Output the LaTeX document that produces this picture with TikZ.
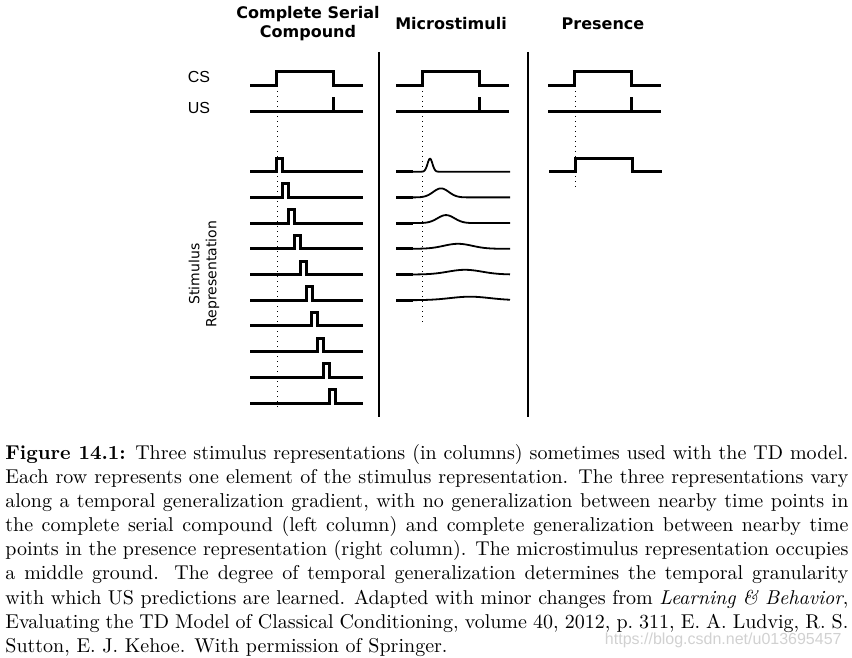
\documentclass[tikz,border=0pt]{standalone}
\usepackage{fontspec}
\newfontfamily\hdfont{DejaVu Sans}
\newfontfamily\lbfont{Liberation Sans}
\usetikzlibrary{calc}

\begin{document}
\begin{tikzpicture}[x=0.5pt,y=-0.5pt,
  sig/.style={line width=1.5pt},
  msig/.style={line width=0.9pt},
  onset/.style={dotted,line width=0.5pt},
  sep/.style={line width=1pt},
  head/.style={font=\hdfont\bfseries\fontsize{8}{9.3}\selectfont,align=center,inner sep=0pt}]
\useasboundingbox (0,0) rectangle (852,658);
% column headers
\node[head,anchor=north] (hcsc) at (308,6) {Complete Serial\\Compound};
\node[head,anchor=base] (hmicro) at (451,29.3) {Microstimuli};
\node[head,anchor=base] (hpres) at (603,29.3) {Presence};
\draw[sep] (379,52) -- (379,417); \draw[sep] (528,52) -- (528,417);
% CS and US rows
\node[font=\lbfont\fontsize{8}{9.6}\selectfont,anchor=base,inner sep=0pt] (cs) at (199,82.7) {CS};
\node[font=\lbfont\fontsize{8}{9.6}\selectfont,anchor=base,inner sep=0pt] (us) at (199,113.3) {US};
\foreach \ox in {250,396,548}{
  \draw[sig] (\ox,86) -- ++(26.5,0) -- ++(0,-14.5) -- ++(56.5,0) -- ++(0,14.5) -- ++(29.5,0);
  \draw[sig] (\ox,112) -- ++(112.5,0);
  \draw[sig] ({\ox+83},112) -- ++(0,-15);
}
% stimulus representations
\node[font=\hdfont\fontsize{7}{8.5}\selectfont,align=center,rotate=90,inner sep=0pt] (stimrep) at (204,274) {Stimulus\\Representation};
\foreach \i in {0,...,9}{
  \pgfmathsetmacro\yy{171.7+25.7*\i}
  \pgfmathsetmacro\xx{276.5+5.9*\i}
  \draw[sig] (250,\yy) -- (\xx,\yy) -- ++(0,-13.5) -- ++(6,0) -- ++(0,13.5) -- (363,\yy);
}
\foreach \i/\c/\s/\a in {0/430/3.5/13,1/441/11/9,2/446/12/8,3/458/20/5,4/465/24/4.7,5/470/28/3.5}{
  \pgfmathsetmacro\yy{171.7+25.7*\i}
  \draw[sig] (396,\yy) -- (413,\yy);
  \draw[msig] plot[domain=413:510,samples=200] (\x,{\yy-\a*exp(0-min(((\x-\c)/\s)^2,20))});
}
\draw[sig] (549,171.7) -- ++(26,0) -- ++(0,-13.5) -- ++(57,0) -- ++(0,13.5) -- ++(30,0);
% CS onset
\coordinate (on1) at (277,86); \coordinate (on2) at (422,86); \coordinate (on3) at (575,86);
\draw[onset] (on1) -- (277,407);
\draw[onset] (on2) -- (422,322);
\draw[onset] (on3) -- (575,188);
% caption
\node[anchor=north west,inner sep=0pt,text width=421.5pt,align=justify,font=\fontsize{10}{12.05}\selectfont] (cap) at (5,444)
{\noindent\textbf{Figure 14.1:} Three stimulus representations (in columns) sometimes used with the TD model.\linebreak
Each row represents one element of the stimulus representation. The three representations vary\linebreak
along a temporal generalization gradient, with no generalization between nearby time points in\linebreak
the complete serial compound (left column) and complete generalization between nearby time\linebreak
points in the presence representation (right column). The microstimulus representation occupies\linebreak
a middle ground. The degree of temporal generalization determines the temporal granularity\linebreak
with which US predictions are learned. Adapted with minor changes from \textit{Learning \& Behavior},\linebreak
Evaluating the TD Model of Classical Conditioning, volume 40, 2012, p.~311, E.~A. Ludvig, R.~S.\linebreak
Sutton, E.~J. Kehoe. With permission of Springer.};
\node[anchor=base east,inner sep=0pt,text=black!18,font=\lbfont\fontsize{8}{9.6}\selectfont] (wm) at (842,644) {https://blog.csdn.net/u013695457};
\end{tikzpicture}
\end{document}
